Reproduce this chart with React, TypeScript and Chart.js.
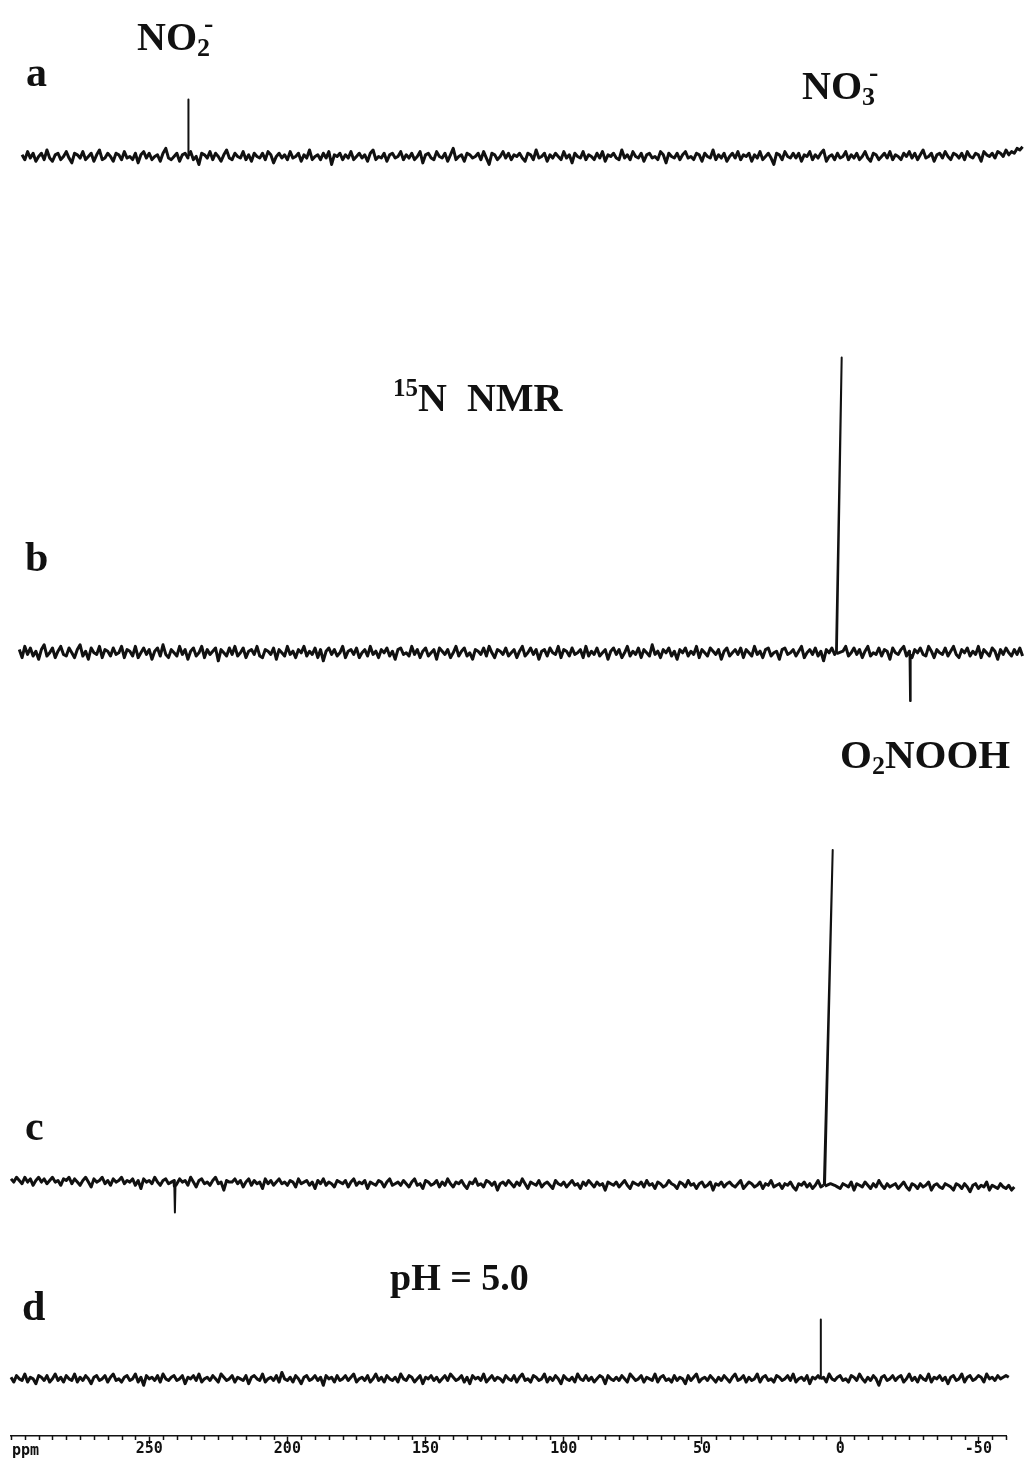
import React, { useEffect, useRef } from "react";
import { Chart, registerables } from "chart.js";

Chart.register(...registerables);

// ---------------- data ----------------
// chemical-shift axis (ppm), decreasing to the right
const PPM_MIN = -60;
const PPM_MAX = 300;
const MAJOR_TICKS = [250, 200, 150, 100, 50, 0, -50];
const MINOR_STEP = 5;
const GRID_STEP = 1; // ppm between recorded baseline points

// start ppm of each recorded trace
const START_A = 296;
const START_B = 297;
const START_C = 300;
const START_D = 300;

// baseline noise (intensity units), one value per ppm
const NOISE_A = [
  1,-2,3,-1,2,-3,0,2,-2,4,-1,-3,1,2,-2,0,3,-1,-4,2,
  1,-1,3,-2,0,2,-3,1,4,-2,-1,2,0,-3,2,1,-2,3,-1,0,
  -2,2,-4,1,3,-1,2,-2,0,1,-3,2,5,-1,-2,0,2,-3,1,2,
  -1,3,-2,0,-5,2,1,-1,3,-2,2,0,-3,1,4,-1,-2,2,0,-1,
  3,-2,1,-3,2,0,-1,2,-2,3,1,-4,0,2,-1,1,-2,3,-1,0,
  2,-3,1,-1,4,-2,0,1,-2,2,-1,3,-5,1,0,2,-2,1,-1,3,
  -2,0,2,-1,1,-3,2,4,-2,0,-1,2,-3,1,2,-1,0,3,-2,1,
  -1,2,-2,0,3,-4,1,2,-1,-2,3,0,-1,2,-3,1,5,-2,0,1,
  -3,2,1,-1,0,2,-2,3,-1,-5,2,1,-2,0,3,-1,2,-2,1,0,
  2,-1,-3,2,1,-2,4,-1,0,2,-3,1,-1,2,0,-2,3,-1,1,-4,
  2,0,-1,3,-2,1,0,-2,2,-1,3,-3,1,0,2,-1,-2,4,-1,1,
  -2,3,0,-1,2,-3,1,2,-1,0,-2,3,1,-4,2,0,-1,2,-2,1,
  3,-1,0,-2,2,1,-3,2,0,-1,4,-2,1,-1,2,-3,0,2,-1,3,
  -2,1,0,2,-3,1,-1,3,-2,0,2,-1,-5,2,1,-2,3,0,-1,2,
  -1,2,-3,1,0,3,-2,1,-1,2,4,-3,0,1,-2,2,-1,0,3,-2,
  1,-1,2,-2,0,3,-1,-3,2,1,-2,0,2,-1,3,-2,1,0,-2,2,
  0,3,-1,2,-2,1,4,-1,0,2,-3,1,2,-1,3,0,-2,2,1,-1,
  2,-2,3,0,-1,2,1,-3,3,1,0,2,-1,3,2,0,4,1,3,2,
  5,4,6,
];
const NOISE_B = [
  2,-3,4,-1,3,-2,1,-4,2,5,-2,0,3,-3,1,4,-1,-2,3,0,
  -3,2,5,-2,1,-4,3,0,-1,4,-3,2,1,-2,3,-1,0,4,-3,2,
  1,-2,4,-3,0,3,-1,2,-4,1,3,-2,5,-1,-3,2,0,-2,4,-1,
  2,-4,1,3,-2,0,4,-3,2,-1,1,3,-5,2,0,-2,3,-1,4,-2,
  0,3,-3,1,2,-1,4,-2,-3,2,1,-1,3,-4,2,0,-2,4,-1,1,
  -3,2,0,4,-2,1,-1,3,-3,2,-5,1,3,-1,2,-2,0,4,-3,1,
  2,-1,3,-3,0,2,-2,4,-1,1,-3,2,0,3,-2,1,-4,2,3,-1,
  0,-2,4,-1,2,-3,1,3,-2,0,2,-4,3,1,-1,2,-3,0,4,-2,
  1,3,-2,0,-4,2,1,-1,3,-2,4,0,-3,2,1,-1,3,-2,0,2,
  -3,1,4,-2,0,3,-1,2,-4,1,2,-2,3,0,-1,4,-3,2,1,-2,
  3,-1,0,2,-3,4,-2,1,-1,3,-2,0,2,-4,1,3,-1,2,-3,0,
  4,-2,1,-1,3,-3,2,0,-2,5,-1,1,-3,2,0,3,-2,1,-4,2,
  0,3,-2,1,-1,4,-3,2,0,-2,3,1,-1,2,-4,1,3,-2,0,2,
  -1,3,-3,2,0,-2,4,-1,1,-3,2,3,-2,0,1,-4,2,3,-1,0,
  2,-2,1,4,-3,0,2,-1,3,-2,1,-5,2,0,3,-1,2,-3,1,4,
  -2,0,3,-1,2,-3,1,4,-2,0,-1,3,-2,2,1,-4,3,0,-1,2,
  4,-2,1,-3,2,0,3,-1,-2,4,1,-3,2,0,-1,3,-2,1,4,-1,
  -3,2,0,3,-2,1,-1,4,-3,2,0,-2,3,1,-4,2,-1,3,0,-2,
  2,-1,3,-2,
];
const NOISE_C = [
  4,2,5,3,1,5,2,4,0,3,5,2,4,1,3,5,2,3,0,4,
  3,5,1,4,2,0,3,5,2,-1,4,2,3,5,1,3,0,4,2,3,
  5,1,3,2,4,0,3,-2,4,2,3,1,5,2,0,3,4,1,2,3,
  1,4,2,3,0,5,2,-1,3,4,1,2,0,3,5,1,2,-3,3,2,
  2,4,1,3,-1,2,4,0,3,1,2,-2,4,1,3,0,2,4,1,2,
  0,3,2,-1,4,1,2,3,0,2,-2,3,1,4,0,2,1,-1,3,2,
  1,3,-1,2,4,0,2,1,3,-2,2,1,0,3,2,-1,2,4,0,1,
  2,0,3,1,-1,2,4,0,1,-2,3,2,0,1,3,-1,2,0,4,1,
  -1,2,1,3,0,-2,2,1,4,0,1,-1,3,2,0,2,-3,1,2,0,
  3,1,-1,2,0,4,1,-2,2,1,0,3,-1,1,2,0,-2,3,1,0,
  2,-1,1,3,0,1,-2,2,0,3,1,-1,2,0,1,-3,2,1,0,2,
  -1,1,3,0,-2,2,1,0,2,-1,3,0,1,-2,2,1,-1,0,3,1,
  0,-2,2,1,-1,3,0,1,-2,1,2,-1,0,2,-3,1,0,2,-1,1,
  2,0,-1,1,3,-2,0,2,1,-1,0,2,-2,1,0,3,-1,0,1,-2,
  1,0,2,-1,-3,1,0,2,-1,1,-2,0,3,-1,0,1,-2,2,0,-1,
  -2,1,0,-1,2,-3,1,0,-1,2,0,-2,1,-1,3,0,-2,1,-1,0,
  1,-2,0,2,-1,-3,1,0,-2,1,-1,0,2,-3,0,1,-1,-2,1,0,
  -1,-3,1,0,-2,1,-1,-4,0,1,-2,0,-1,2,-3,0,-1,-2,1,-1,
  -2,0,-3,-1,
];
const NOISE_D = [
  1,-2,2,0,-1,3,-2,1,0,-3,2,1,-1,2,-2,0,3,-1,1,-2,
  2,0,-1,3,-2,1,-1,2,0,-3,1,2,-1,0,2,-2,1,3,-1,0,
  -2,1,2,-1,0,3,-2,1,-4,2,0,1,-1,2,-2,3,0,-1,1,2,
  -1,0,2,-3,1,0,2,-1,3,-2,0,1,-1,2,0,-2,3,1,-1,0,
  2,-2,1,0,-1,2,-3,1,2,0,-1,3,-2,0,1,-1,2,-2,4,0,
  -1,1,-2,2,0,-3,1,2,-1,0,2,-1,1,-4,2,0,1,-2,2,-1,
  0,2,-1,1,3,-2,0,1,-1,2,-2,0,3,-1,1,-2,2,0,-1,1,
  -2,3,0,-1,2,1,-2,0,2,-3,1,0,2,-1,1,-2,0,2,-1,3,
  1,-1,0,2,-2,1,-3,2,0,1,-1,3,-2,0,2,-1,1,0,-2,2,
  0,-1,2,-2,1,3,-1,0,-2,2,1,-1,0,3,-2,1,-1,2,0,-3,
  2,0,-1,1,-2,3,0,-1,2,-1,1,-2,0,2,1,-3,2,0,-1,1,
  -1,2,0,-2,3,1,-1,0,2,-2,1,0,-1,3,-2,1,2,-1,0,-2,
  2,-1,1,0,-3,2,-1,1,3,-2,0,1,-1,2,0,-2,1,-1,2,0,
  -2,1,3,-1,0,2,-2,1,-1,0,3,-2,1,2,-1,0,-2,2,1,-1,
  0,2,-1,3,-2,0,1,-1,2,-3,1,0,2,-1,1,-2,3,0,-1,1,
  2,-1,0,-2,2,1,-1,3,0,-2,1,-1,2,0,-4,1,2,-1,0,2,
  -1,1,2,-2,0,3,-1,1,-2,2,0,-1,3,-2,1,0,2,-1,1,-3,
  1,2,-1,0,3,-2,1,2,-1,0,2,1,-2,3,0,1,-1,2,0,1,
  2,1,
];

// resonances: sequences of (ppm, intensity) as drawn by the plotter pen
const PEAKS_A = [
  [{ x: 235.95, y: 0 }, { x: 235.85, y: 35.5 }, { x: 235.75, y: 0.5 }], // NO2-
];
const PEAKS_B = [
  [{ x: 1.5, y: 0 }, { x: -0.55, y: 184 }, { x: 1.2, y: -0.5 }], // NO3-
  [{ x: -25.1, y: -1 }, { x: -25.3, y: -30 }, { x: -25.5, y: -1 }],
];
const PEAKS_C = [
  [{ x: 240.9, y: -0.5 }, { x: 240.7, y: -17 }, { x: 240.5, y: -0.5 }],
  [{ x: 5.9, y: 0 }, { x: 2.7, y: 209 }, { x: 5.5, y: -0.5 }, { x: 3.5, y: 1 }], // O2NOOH
];
const PEAKS_D = [
  [{ x: 7.15, y: 0 }, { x: 7.05, y: 37 }, { x: 6.95, y: 0 }],
];

// ---------------- layout ----------------
const W = 1026;
const H = 1460;
const AREA_H = 1432; // chart area height (top = 0)
const PX_PER_UNIT = 1.6;
const BASELINE_PX = { a: 156, b: 651, c: 1182, d: 1375 };
const NOISE_WIDTH = 3;
const PEAK_WIDTH = 2;

type Pt = { x: number; y: number };

function buildTrace(start: number, noise: number[], peaks: Pt[][]): Pt[] {
  let out: Pt[] = noise.map((v, i) => ({ x: start - i * GRID_STEP, y: v }));
  for (const seq of peaks) {
    const xs = seq.map((p) => p.x);
    const hi = Math.max(...xs);
    const lo = Math.min(...xs);
    const before = out.filter((p) => p.x > hi);
    const after = out.filter((p) => p.x < lo);
    out = [...before, ...seq, ...after];
  }
  return out;
}

function yAxis(basePx: number) {
  return {
    type: "linear" as const,
    display: false,
    min: (basePx - AREA_H) / PX_PER_UNIT,
    max: basePx / PX_PER_UNIT,
  };
}

type Run = { t: string; size: number; dy?: number; dx?: number };

const SERIF = '"Liberation Serif", "Times New Roman", serif';

const ANNOTATIONS: { x: number; y: number; runs: Run[] }[] = [
  { x: 137, y: 50, runs: [{ t: "NO", size: 40 }, { t: "2", size: 26, dy: 6 }, { t: "-", size: 28, dy: -18, dx: -6 }] },
  { x: 26, y: 86, runs: [{ t: "a", size: 42 }] },
  { x: 802, y: 99, runs: [{ t: "NO", size: 40 }, { t: "3", size: 26, dy: 6 }, { t: "-", size: 28, dy: -18, dx: -6 }] },
  { x: 393, y: 411, runs: [{ t: "15", size: 25, dy: -15 }, { t: "N  NMR", size: 40 }] },
  { x: 25, y: 571, runs: [{ t: "b", size: 42 }] },
  { x: 840, y: 768, runs: [{ t: "O", size: 41 }, { t: "2", size: 26, dy: 6 }, { t: "NOOH", size: 41 }] },
  { x: 25, y: 1140, runs: [{ t: "c", size: 42 }] },
  { x: 390, y: 1290, runs: [{ t: "pH = 5.0", size: 38 }] },
  { x: 22, y: 1320, runs: [{ t: "d", size: 42 }] },
];

const TICK_FONT = '"DejaVu Sans Mono", monospace';

const overlayPlugin = {
  id: "overlay",
  afterDraw(chart: any) {
    const ctx = chart.ctx as CanvasRenderingContext2D;
    const xs = chart.scales.x;
    ctx.save();
    // minor tick marks
    ctx.strokeStyle = "#111";
    ctx.lineWidth = 1.5;
    for (let v = PPM_MAX; v >= PPM_MIN; v -= MINOR_STEP) {
      if (MAJOR_TICKS.includes(v)) continue;
      const px = Math.round(xs.getPixelForValue(v)) + 0.5;
      ctx.beginPath();
      ctx.moveTo(px, xs.top);
      ctx.lineTo(px, xs.top + 4);
      ctx.stroke();
    }
    // unit label
    ctx.fillStyle = "#111";
    ctx.font = `bold 15px ${TICK_FONT}`;
    ctx.textBaseline = "middle";
    ctx.textAlign = "left";
    ctx.fillText("ppm", xs.getPixelForValue(PPM_MAX) + 1, xs.top + 15);
    // annotations
    ctx.textBaseline = "alphabetic";
    for (const a of ANNOTATIONS) {
      let cx = a.x;
      for (const r of a.runs) {
        ctx.font = `bold ${r.size}px ${SERIF}`;
        cx += r.dx || 0;
        ctx.fillText(r.t, cx, a.y + (r.dy || 0));
        cx += ctx.measureText(r.t).width;
      }
    }
    ctx.restore();
  },
};

export default function App() {
  const ref = useRef<HTMLCanvasElement | null>(null);
  useEffect(() => {
    if (!ref.current) return;
    const ds = (id: string, data: Pt[]) => ({
      label: id,
      data,
      yAxisID: "y" + id,
      borderColor: "#111",
      borderWidth: NOISE_WIDTH,
      borderJoinStyle: "round" as const,
      segment: {
        // tall resonance strokes are drawn with a thinner pen than the noisy baseline
        borderWidth: (s: any) => (Math.abs(s.p1.parsed.y - s.p0.parsed.y) > 12 ? PEAK_WIDTH : NOISE_WIDTH),
      },
      pointRadius: 0,
      tension: 0,
      fill: false,
      clip: false as const,
    });
    const tickValues: number[] = [];
    for (let v = PPM_MAX; v >= PPM_MIN; v -= MINOR_STEP) tickValues.push(v);
    const chart = new Chart(ref.current, {
      type: "line",
      data: {
        datasets: [
          ds("a", buildTrace(START_A, NOISE_A, PEAKS_A)),
          ds("b", buildTrace(START_B, NOISE_B, PEAKS_B)),
          ds("c", buildTrace(START_C, NOISE_C, PEAKS_C)),
          ds("d", buildTrace(START_D, NOISE_D, PEAKS_D)),
        ],
      },
      options: {
        animation: false,
        responsive: false,
        devicePixelRatio: 1,
        layout: { padding: { left: 11, right: 20, top: 0, bottom: 6 } },
        plugins: { legend: { display: false }, tooltip: { enabled: false } },
        scales: {
          x: {
            type: "linear",
            min: PPM_MIN,
            max: PPM_MAX,
            reverse: true,
            position: "bottom",
            afterBuildTicks: (axis: any) => {
              axis.ticks = tickValues.map((v) => ({ value: v }));
            },
            ticks: {
              autoSkip: false,
              maxRotation: 0,
              minRotation: 0,
              padding: -4,
              color: "#111",
              font: { family: TICK_FONT, size: 15, weight: "bold" },
              callback: (v: any) => (MAJOR_TICKS.includes(Number(v)) ? String(v) : ""),
            },
            grid: {
              display: true,
              drawOnChartArea: false,
              drawTicks: true,
              tickLength: 8,
              tickWidth: 1.5,
              tickColor: (c: any) =>
                c.tick && MAJOR_TICKS.includes(c.tick.value) ? "#111" : "rgba(0,0,0,0)",
            },
            border: { display: true, color: "#111", width: 1.5 },
          },
          ya: yAxis(BASELINE_PX.a),
          yb: yAxis(BASELINE_PX.b),
          yc: yAxis(BASELINE_PX.c),
          yd: yAxis(BASELINE_PX.d),
        },
      },
      plugins: [overlayPlugin],
    });
    return () => chart.destroy();
  }, []);
  return (
    <div style={{ position: "absolute", left: 0, top: 0, width: W, height: H, background: "#fff" }}>
      <canvas ref={ref} width={W} height={H} style={{ display: "block" }} />
    </div>
  );
}
